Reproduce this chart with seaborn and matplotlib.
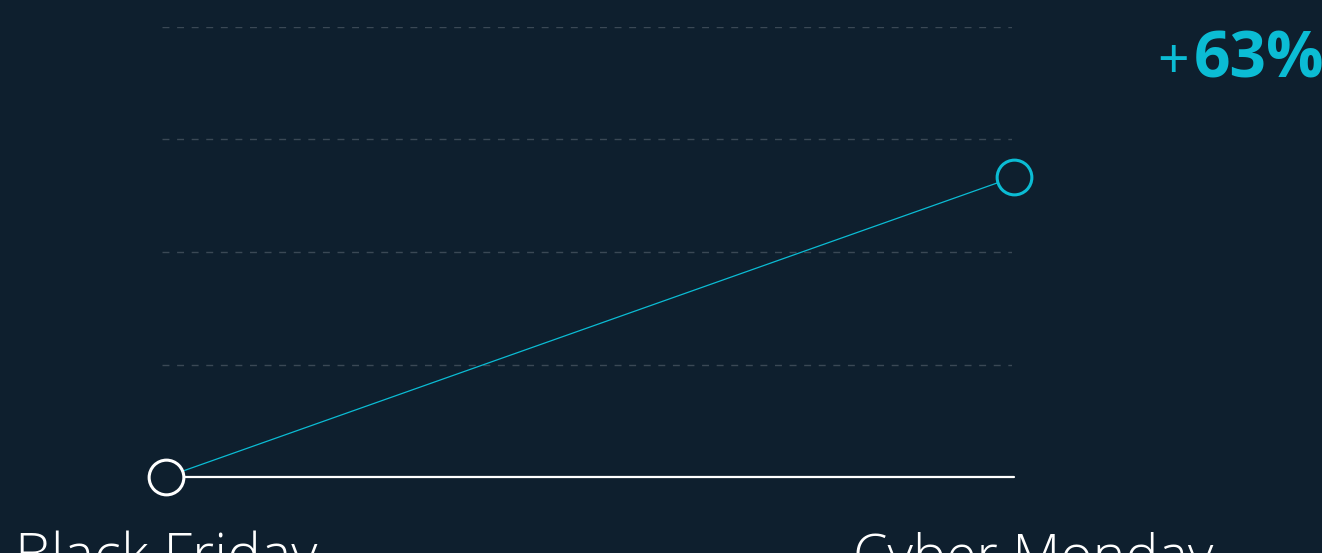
import numpy as np
import pandas as pd
import seaborn as sns
import matplotlib.pyplot as plt

# data (index, Black Friday = 100)
days = ["Black Friday", "Cyber Monday"]
sales_index = [100, 163]
grid_levels = [123.6, 147.3, 170.9, 194.5]
uplift_label = "63%"

bg = "#0e1f2e"
cyan = "#0bbcd4"
grid_col = "#3a4855"

sns.set_theme(style="dark", rc={"axes.facecolor": bg, "figure.facecolor": bg})
plt.rcParams["font.family"] = ["Open Sans", "DejaVu Sans"]

df = pd.DataFrame({"pos": [0, 1], "day": days, "value": sales_index})

fig = plt.figure(figsize=(13.22, 5.53), dpi=100)
ax = fig.add_axes([162 / 1322, 1 - 477 / 553, 850 / 1322, 450 / 553])

# dashed grid lines
for g in grid_levels:
    ax.axhline(g, color=grid_col, lw=1, ls=(0, (5, 5.5)), zorder=1)

# baseline (white) from first to last day
ax.plot([0, 1], [sales_index[0], sales_index[0]], color="white", lw=1.6, zorder=2,
        clip_on=False)

# connecting line
sns.lineplot(data=df, x="pos", y="value", color=cyan, lw=0.9, ax=ax, zorder=3)

# markers
ax.plot(df["pos"][:1], df["value"][:1], "o", ms=25, mfc=bg, mec="white", mew=2.2,
        zorder=4, clip_on=False)
ax.plot(df["pos"][1:], df["value"][1:], "o", ms=25, mfc=bg, mec=cyan, mew=2.2,
        zorder=4, clip_on=False)

ax.set_xlim(-4 / 848, 846 / 848)
ax.set_ylim(sales_index[0], grid_levels[-1])
ax.set_xticks([])
ax.set_yticks([])
ax.set_xlabel("")
ax.set_ylabel("")
for s in ax.spines.values():
    s.set_visible(False)

# day labels, cut off at bottom like the original
fig.text(166 / 1322, -0.038, days[0], ha="center", va="baseline", color="white",
         fontsize=41, fontweight="light")
fig.text(1033 / 1322, -0.038, days[1], ha="center", va="baseline", color="white",
         fontsize=40, fontweight="light")

# uplift
fig.text(1189 / 1322, 1 - 78 / 553, "+", ha="right", va="baseline", color=cyan,
         fontsize=40, fontweight="normal")
fig.text(1194 / 1322, 1 - 78 / 553, uplift_label, ha="left", va="baseline", color=cyan,
         fontsize=46, fontweight="bold")

plt.savefig("out.png", dpi=100, facecolor=bg)
